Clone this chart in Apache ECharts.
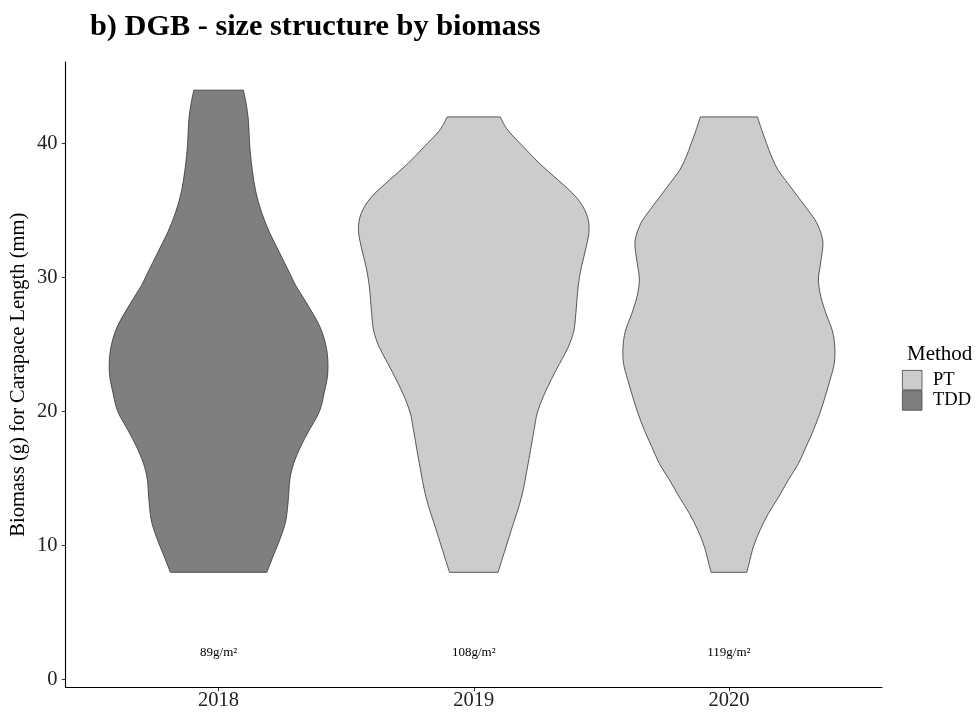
<!DOCTYPE html>
<html>
<head>
<meta charset="utf-8">
<script src="https://cdn.jsdelivr.net/npm/echarts@6/dist/echarts.min.js"></script>
<style>
html,body{margin:0;padding:0;background:#fff;}
#chart{width:976px;height:713px;}
</style>
</head>
<body>
<div id="chart"></div>
<script>
// ---- data ----
const years = ['2018', '2019', '2020'];
const yTicks = [0, 10, 20, 30, 40];
const densityLabels = ['89g/m²', '108g/m²', '119g/m²'];
const densityLabelY = 2;

// violin outlines: biomass level (y) and half-width (in category units)
const y2018 = [8.0, 9.4, 10.65, 11.9, 13.6, 14.9, 16.1, 17.4, 18.6, 20.0, 21.4, 22.9, 24.6, 26.3, 28.1, 29.4, 30.4, 31.9, 33.4, 34.9, 36.4, 37.9, 39.4, 40.6, 41.9, 43.1, 44.0];
const w2018 = [0.189, 0.218, 0.244, 0.264, 0.274, 0.279, 0.294, 0.322, 0.355, 0.395, 0.414, 0.428, 0.424, 0.398, 0.345, 0.303, 0.277, 0.238, 0.199, 0.168, 0.146, 0.133, 0.124, 0.120, 0.116, 0.107, 0.097];

const y2019 = [8.0, 9.2, 11.15, 13.6, 16.1, 18.6, 19.9, 21.1, 22.4, 23.6, 24.8, 26.0, 27.3, 29.3, 30.8, 32.3, 33.6, 34.8, 36.0, 37.3, 38.5, 39.8, 41.0, 42.0];
const w2019 = [0.095, 0.115, 0.147, 0.187, 0.213, 0.236, 0.249, 0.272, 0.304, 0.337, 0.370, 0.392, 0.400, 0.409, 0.422, 0.441, 0.452, 0.441, 0.402, 0.330, 0.259, 0.193, 0.134, 0.104];

const y2020 = [8.0, 8.66, 9.9, 11.15, 12.4, 13.6, 14.9, 16.1, 17.4, 18.6, 19.9, 21.1, 22.4, 23.6, 24.8, 26.0, 27.3, 28.6, 29.8, 30.8, 32.3, 33.1, 34.1, 35.0, 36.0, 37.0, 38.0, 39.0, 40.0, 41.0, 42.0];
const w2020 = [0.070, 0.079, 0.096, 0.122, 0.155, 0.194, 0.233, 0.272, 0.303, 0.331, 0.357, 0.377, 0.397, 0.413, 0.415, 0.406, 0.381, 0.360, 0.351, 0.357, 0.368, 0.364, 0.344, 0.312, 0.272, 0.233, 0.194, 0.168, 0.148, 0.129, 0.112];

const profiles = { 1: [y2018, w2018], 2: [y2019, w2019], 3: [y2020, w2020] };

const FONT = "'Liberation Serif', 'Times New Roman', serif";

// smooth curve through points (Catmull-Rom as cubic Bezier)
function curveThrough(pts) {
  let d = '';
  const n = pts.length;
  for (let i = 0; i < n - 1; i++) {
    const p0 = pts[Math.max(i - 1, 0)], p1 = pts[i], p2 = pts[i + 1], p3 = pts[Math.min(i + 2, n - 1)];
    const c1 = [p1[0] + (p2[0] - p0[0]) / 6, p1[1] + (p2[1] - p0[1]) / 6];
    const c2 = [p2[0] - (p3[0] - p1[0]) / 6, p2[1] - (p3[1] - p1[1]) / 6];
    d += ' C' + c1[0] + ' ' + c1[1] + ' ' + c2[0] + ' ' + c2[1] + ' ' + p2[0] + ' ' + p2[1];
  }
  return d;
}

function violin(params, api) {
  const pos = api.value(0);
  const ys = profiles[pos][0], ws = profiles[pos][1];
  const left = [], right = [];
  for (let i = 0; i < ys.length; i++) left.push(api.coord([pos - ws[i], ys[i]]));
  for (let i = ys.length - 1; i >= 0; i--) right.push(api.coord([pos + ws[i], ys[i]]));
  const d = 'M' + left[0][0] + ' ' + left[0][1] + curveThrough(left) +
    ' L' + right[0][0] + ' ' + right[0][1] + curveThrough(right) + ' Z';
  return {
    type: 'path',
    shape: { pathData: d },
    style: { fill: api.visual('color'), stroke: '#333333', lineWidth: 0.8 }
  };
}

const chart = echarts.init(document.getElementById('chart'), null, { renderer: 'canvas' });
chart.setOption({
  animation: false,
  backgroundColor: '#ffffff',
  title: [
    { text: 'b) DGB - size structure by biomass', left: 85, top: 7,
      textStyle: { fontFamily: FONT, fontWeight: 'bold', fontSize: 30.3, color: '#000' } },
    { text: 'Method', left: 902, top: 339,
      textStyle: { fontFamily: FONT, fontWeight: 'normal', fontSize: 21, color: '#000' } }
  ],
  legend: {
    orient: 'vertical', left: 902, top: 370, padding: 0,
    itemWidth: 19.6, itemHeight: 19.5, itemGap: 0, icon: 'rect',
    data: ['PT', 'TDD'],
    itemStyle: { borderColor: '#444', borderWidth: 0.8 },
    textStyle: { fontFamily: FONT, fontSize: 18.5, color: '#000', padding: [0, 0, 0, 6] }
  },
  grid: { left: 65.5, right: 94, top: 62, bottom: 25.5, containLabel: false, outerBoundsMode: 'none' },
  xAxis: {
    type: 'value', min: 0.4, max: 3.6,
    splitLine: { show: false },
    axisLine: { show: true, onZero: false, lineStyle: { color: '#000', width: 1.1 } },
    axisTick: { show: true, length: 3.7, customValues: [1, 2, 3], lineStyle: { color: '#333', width: 1 } },
    axisLabel: { customValues: [1, 2, 3], margin: 3, fontFamily: FONT, fontSize: 20.5, color: '#222',
      formatter: v => years[Math.round(v) - 1] || '' }
  },
  yAxis: {
    type: 'value', min: -0.6, max: 46.1,
    name: 'Biomass (g) for Carapace Length (mm)', nameLocation: 'middle', nameGap: 36,
    nameMoveOverlap: false,
    nameTextStyle: { fontFamily: FONT, fontSize: 20.5, color: '#000' },
    splitLine: { show: false },
    axisLine: { show: true, onZero: false, lineStyle: { color: '#000', width: 1.1 } },
    axisTick: { show: true, length: 3.7, customValues: yTicks, lineStyle: { color: '#333', width: 1 } },
    axisLabel: { customValues: yTicks, margin: 8, fontFamily: FONT, fontSize: 20.5, color: '#222' }
  },
  series: [
    { name: 'PT', type: 'custom', renderItem: violin, itemStyle: { color: '#cccccc' },
      encode: { x: 0 }, data: [[2], [3]] },
    { name: 'TDD', type: 'custom', renderItem: violin, itemStyle: { color: '#7f7f7f' },
      encode: { x: 0 }, data: [[1]] },
    { name: 'labels', type: 'custom', silent: true,
      renderItem: function (params, api) {
        const p = api.coord([api.value(0), api.value(1)]);
        return { type: 'text', x: p[0], y: p[1],
          style: { text: densityLabels[params.dataIndex], fill: '#000', font: '13px ' + FONT,
            align: 'center', verticalAlign: 'middle' } };
      },
      encode: { x: 0, y: 1 },
      data: years.map((y, i) => [i + 1, densityLabelY]) }
  ]
});
</script>
</body>
</html>
